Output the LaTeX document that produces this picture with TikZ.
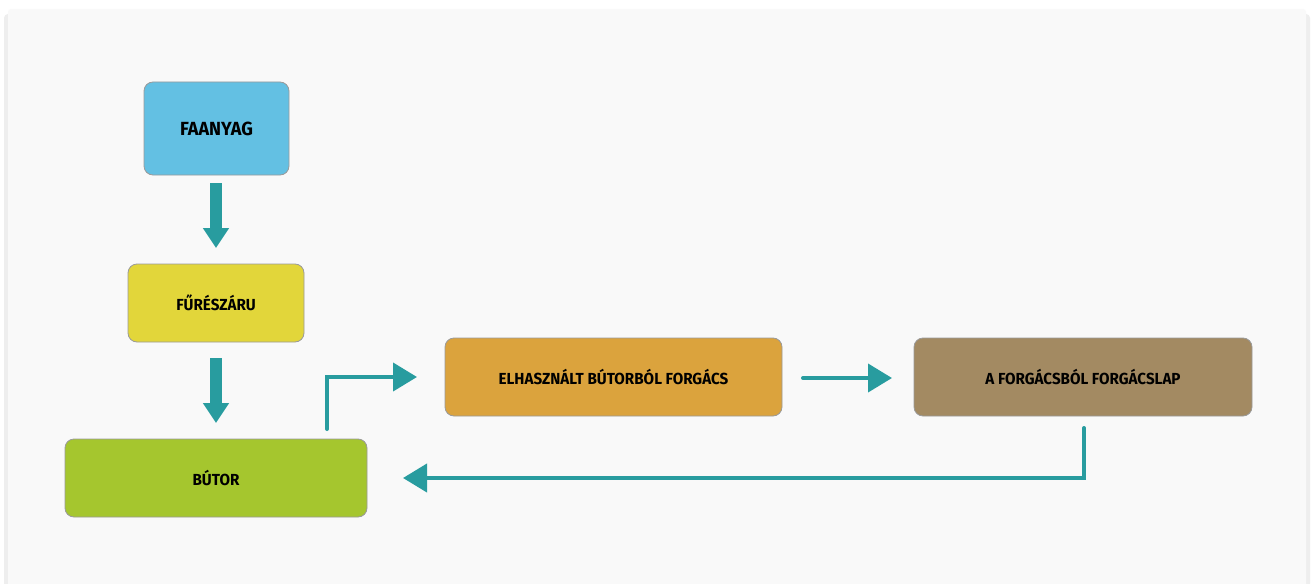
\documentclass[tikz,border=0pt]{standalone}
\usepackage{fontspec}
\usetikzlibrary{arrows.meta}
\newfontfamily\lblfont{Fira Sans}[FakeStretch=0.95]
\definecolor{teal1}{HTML}{289C9F}
\definecolor{cblue}{HTML}{63C0E3}
\definecolor{cyel}{HTML}{E2D63A}
\definecolor{cgreen}{HTML}{A5C62E}
\definecolor{corange}{HTML}{DBA33D}
\definecolor{cbrown}{HTML}{A38A62}
\definecolor{card}{HTML}{F9F9F9}
\definecolor{shadow}{HTML}{EEEEEE}
\definecolor{bord}{HTML}{9A9A9A}
\begin{document}
\begin{tikzpicture}[x=1pt,y=-1pt,
  box/.style={draw=bord,line width=0.8pt,rounded corners=9pt,inner sep=0pt,
     font=\lblfont\bfseries\fontsize{16}{18}\selectfont,text=black},
  thick arrow/.style={teal1,line width=12pt,-{Triangle[width=25pt,length=20pt]}},
  thin arrow/.style={teal1,line width=4pt,-{Triangle[width=28pt,length=24pt]}}]
\useasboundingbox (0,0) rectangle (1313,583);
\fill[white] (0,0) rectangle (1313,583);
\fill[shadow,rounded corners=4pt] (4,14) rectangle (1310,590);
\fill[card,rounded corners=3pt] (8,9) rectangle (1306,590);
% boxes
\node[box,fill=cblue,minimum width=145pt,minimum height=93pt,font=\lblfont\bfseries\fontsize{19}{21}\selectfont] (faanyag) at (216.5,128.5) {FAANYAG};
\node[box,fill=cyel,minimum width=176pt,minimum height=78pt] (fureszaru) at (216,303) {FŰRÉSZÁRU};
\node[box,fill=cgreen,minimum width=302pt,minimum height=78pt] (butor) at (216,478) {BÚTOR};
\node[box,fill=corange,minimum width=337pt,minimum height=78pt] (elh) at (613.5,377) {ELHASZNÁLT BÚTORBÓL FORGÁCS};
\node[box,fill=cbrown,minimum width=338pt,minimum height=78pt] (lap) at (1083,377) {A FORGÁCSBÓL FORGÁCSLAP};
% connectors
\coordinate (a1s) at (216,183);
\coordinate (a1e) at (216,248);
\draw[thick arrow] (a1s) -- (a1e);
\coordinate (a2s) at (216,358);
\coordinate (a2e) at (216,423);
\draw[thick arrow] (a2s) -- (a2e);
\coordinate (b1s) at (327,429);
\coordinate (b1e) at (417,377);
\draw[thin arrow,line cap=round] (b1s) |- (b1e);
\coordinate (c1s) at (803,378);
\coordinate (c1e) at (892,378);
\draw[thin arrow,line cap=round] (c1s) -- (c1e);
\coordinate (d1s) at (1084,428);
\coordinate (d1e) at (403,478);
\draw[thin arrow,line cap=round] (d1s) |- (d1e);
\end{tikzpicture}
\end{document}
